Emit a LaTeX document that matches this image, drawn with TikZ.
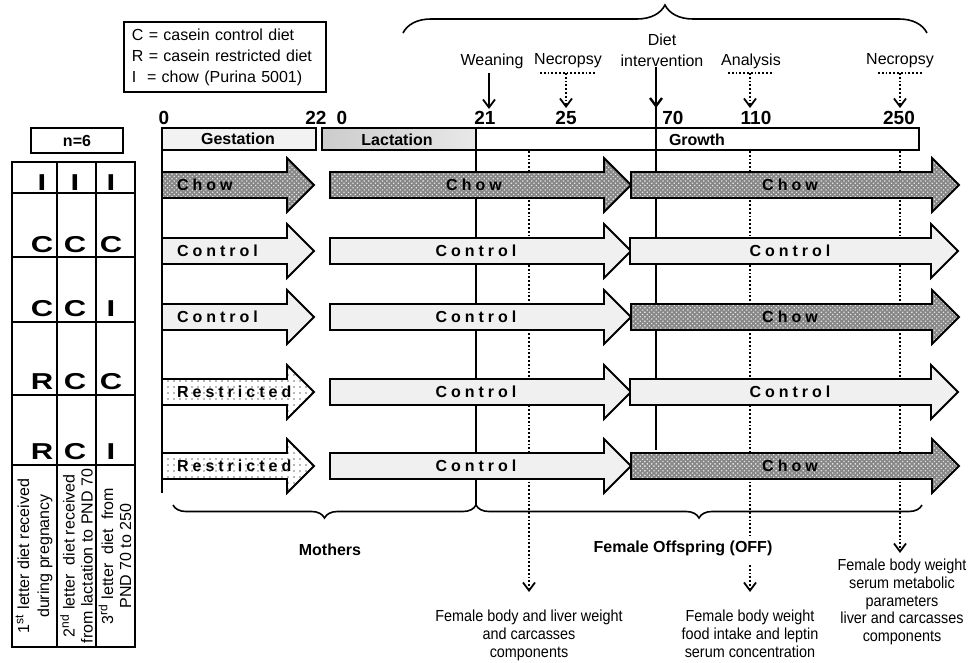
\documentclass[tikz,border=0pt]{standalone}
\usepackage{fontspec}
\setmainfont{Liberation Sans}
\newfontfamily\spacedfont[LetterSpace=25]{Liberation Sans}
\newfontfamily\narrowfont[FakeStretch=0.9]{Liberation Sans}
\newfontfamily\widefont[FakeStretch=1.35]{Liberation Sans}
\usetikzlibrary{calc,arrows.meta,patterns.meta,positioning,decorations.pathreplacing}

\tikzset{
  chowfill/.style={preaction={fill=black!47}, pattern={Dots[distance=1.6pt,radius=0.45pt,angle=45]}, pattern color=black!10, draw=black, line width=0.9pt},
  ctrlfill/.style={fill=black!6, draw=black, line width=0.9pt},
  restrfill/.style={preaction={fill=white}, pattern={Dots[distance=3pt,radius=0.4pt]}, pattern color=black!55, draw=black, line width=0.9pt},
  dietlabel/.style={font=\spacedfont\bfseries\fontsize{8}{9}\selectfont},
  daynum/.style={font=\bfseries\fontsize{9.5}{10}\selectfont, anchor=base},
  eventlabel/.style={font=\fontsize{8}{10.5}\selectfont, align=center},
  note/.style={font=\narrowfont\fontsize{8}{8.8}\selectfont, align=center, anchor=north, inner sep=0pt},
  cellletter/.style={font=\widefont\bfseries\fontsize{11.5}{11.5}\selectfont, anchor=base},
  barb/.style={-{Straight Barb[length=4pt,width=6pt]}},
  dotline/.style={densely dotted, line width=0.9pt},
  bracestyle/.style={line width=0.8pt, decorate},
}

% #1 tail x, #2 tip x, #3 middle y, #4 style
\newcommand{\dietarrow}[4]{%
  \draw[#4] (#1,#3-13) -- (#2-27,#3-13) -- (#2-27,#3-27) -- (#2,#3) -- (#2-27,#3+27) -- (#2-27,#3+13) -- (#1,#3+13) -- cycle;}

\begin{document}
\begin{tikzpicture}[x=0.5pt, y=-0.5pt]
\useasboundingbox (0,0) rectangle (971,663);

% legend
\node[draw, line width=0.9pt, anchor=north west, minimum height=34.5pt, text width=93pt, inner xsep=4pt, align=left, font=\fontsize{8}{10.5}\selectfont] (legend) at (123,21) {C = casein control diet\\R = casein restricted diet\\I~ = chow (Purina 5001)};

% top brace
\draw[bracestyle, decoration={brace, amplitude=14pt}] (403,33) -- (927,33);

% events
\node[eventlabel] (wean) at (492,61) {Weaning};
\node[eventlabel] (necA) at (568,61) {Necropsy};
\node[eventlabel] (diet) at (662,50.5) {Diet\\intervention};
\node[eventlabel] (anal) at (751,61) {Analysis};
\node[eventlabel] (necB) at (900,61) {Necropsy};

\coordinate (wean-top) at (489,73);
\coordinate (wean-tip) at (489,109);
\draw[barb, line width=0.9pt] (wean-top) -- (wean-tip);
\draw[dotline] (540,73) -- (596,73);
\draw[dotline, barb] (566,73) -- (566,108);
\draw[dotline] (728,73) -- (773,73);
\draw[dotline, barb] (750,73) -- (750,108);
\draw[dotline] (878,73) -- (923,73);
\draw[dotline, barb] (900,73) -- (900,108);

% days
\node[daynum] (d0) at (164,125) {0};
\node[daynum] (d22) at (316,125) {22};
\node[daynum] (l0) at (342,125) {0};
\node[daynum] (d21) at (485,125) {21};
\node[daynum] (d25) at (566,125) {25};
\node[daynum] (d70) at (673,125) {70};
\node[daynum] (d110) at (756,125) {110};
\node[daynum] (d250) at (899,125) {250};

% periods
\draw[line width=0.8pt, fill=black!5] (162,128) rectangle (316,150);
\draw[line width=0.8pt, left color=black!20, right color=black!9] (322,128) rectangle (476,150);
\draw[line width=0.8pt, fill=white] (476,128) rectangle (919,150);
\node[font=\bfseries\fontsize{8}{9}\selectfont] (gest) at (238,139) {Gestation};
\node[font=\bfseries\fontsize{8}{9}\selectfont] (lact) at (397,140) {Lactation};
\node[font=\bfseries\fontsize{8}{9}\selectfont] (grow) at (697,140) {Growth};

% time lines
\draw[line width=0.8pt] (476,128) -- (476,505);
\draw[dotline, barb] (529,151) -- (529,592);
\draw[dotline] (750,151) -- (750,535);
\draw[dotline, barb] (750,565) -- (750,592);
\draw[dotline, barb] (900,151) -- (900,553);
\draw[line width=1.2pt] (656,67) -- (656,450);
\draw[barb, line width=1.2pt] (656,67) -- (656,108);

% diets
\dietarrow{162}{314}{185}{chowfill}
\dietarrow{330}{631}{185}{chowfill}
\dietarrow{631}{959}{185}{chowfill}
\dietarrow{162}{314}{251}{ctrlfill}
\dietarrow{330}{631}{251}{ctrlfill}
\dietarrow{630}{958}{251}{ctrlfill}
\dietarrow{162}{314}{317}{ctrlfill}
\dietarrow{330}{631}{317}{ctrlfill}
\dietarrow{631}{959}{317}{chowfill}
\dietarrow{162}{314}{392}{restrfill}
\dietarrow{330}{631}{392}{ctrlfill}
\dietarrow{630}{958}{392}{ctrlfill}
\dietarrow{162}{314}{466}{restrfill}
\dietarrow{330}{631}{466}{ctrlfill}
\dietarrow{631}{959}{466}{chowfill}

\node[dietlabel, anchor=west] (g1) at (170,185) {Chow};
\node[dietlabel] (m1) at (474,185) {Chow};
\node[dietlabel] (p1) at (790,185) {Chow};
\node[dietlabel, anchor=west] (g2) at (170,251) {Control};
\node[dietlabel] (m2) at (476,251) {Control};
\node[dietlabel] (p2) at (790,251) {Control};
\node[dietlabel, anchor=west] (g3) at (170,317) {Control};
\node[dietlabel] (m3) at (476,317) {Control};
\node[dietlabel] (p3) at (790,317) {Chow};
\node[dietlabel, anchor=west] (g4) at (170,392) {Restricted};
\node[dietlabel] (m4) at (476,392) {Control};
\node[dietlabel] (p4) at (790,392) {Control};
\node[dietlabel, anchor=west] (g5) at (170,466) {Restricted};
\node[dietlabel] (m5) at (476,466) {Control};
\node[dietlabel] (p5) at (790,466) {Chow};

\draw[line width=1.3pt] (162,128) -- (162,493);

% groups
\draw[bracestyle, decoration={brace, mirror, amplitude=6.5pt}] (173,505) -- (476,505);
\draw[bracestyle, decoration={brace, mirror, amplitude=6.5pt}] (476,505) -- (922,505);
\node[font=\bfseries\fontsize{8}{9}\selectfont] (moth) at (330,550) {Mothers};
\node[font=\bfseries\fontsize{8}{9}\selectfont] (off) at (683,548) {Female Offspring (OFF)};

% outcomes
\node[note] (outA) at (529,610) {Female body and liver weight\\and carcasses\\components};
\node[note] (outB) at (750,610) {Female body weight\\food intake and leptin\\serum concentration};
\node[note] (outC) at (902,559) {Female body weight\\serum metabolic\\parameters\\liver and carcasses\\components};

% groups table
\node[draw, line width=1pt, minimum width=46pt, minimum height=12.5pt, font=\bfseries\fontsize{8}{9}\selectfont] (nbox) at (77,140.5) {n=6};
\draw[line width=1.2pt] (12,162) rectangle (135,647);
\draw[line width=1.2pt] (57,162) -- (57,647) (96,162) -- (96,647);
\foreach \yy in {193,257,322,395,465}
  \draw[line width=1.2pt] (12,\yy) -- (135,\yy);
\foreach \ca/\cb/\cc/\yy in {I/I/I/191,C/C/C/253,C/C/I/317,R/C/C/390,R/C/I/460} {
  \node[cellletter] (ca\yy) at (42,\yy) {\ca};
  \node[cellletter] (cb\yy) at (75,\yy) {\cb};
  \node[cellletter] (cc\yy) at (111,\yy) {\cc};
}
\node[rotate=90, align=center, font=\fontsize{8}{10}\selectfont] (key1) at (34,556) {1\textsuperscript{st} letter diet received\\during pregnancy};
\node[rotate=90, align=center, font=\fontsize{8}{9}\selectfont] (key2) at (76.5,556) {2\textsuperscript{nd} letter~ diet received\\from lactation to PND 70};
\node[rotate=90, align=center, font=\fontsize{8}{9}\selectfont] (key3) at (115,556) {3\textsuperscript{rd} letter~ diet~ from\\PND 70 to 250};

\end{tikzpicture}
\end{document}
